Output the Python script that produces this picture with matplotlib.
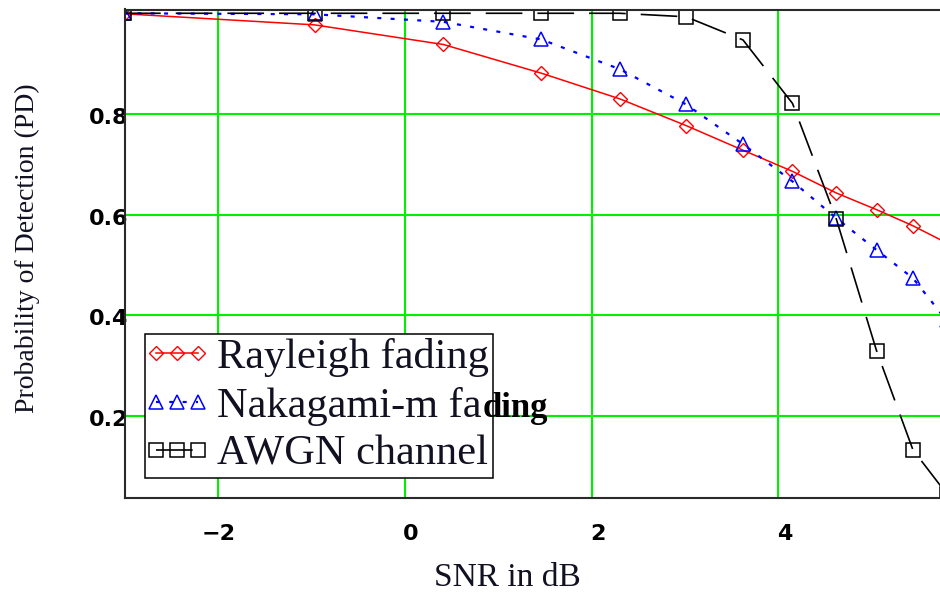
import matplotlib
matplotlib.use("Agg")
import matplotlib.pyplot as plt
import matplotlib.transforms as mtransforms
from matplotlib.font_manager import FontProperties
from matplotlib.legend_handler import HandlerLine2D

# ---- data ----
snr_db = [-3.01, -0.97, 0.41, 1.46, 2.30, 3.01, 3.62, 4.15, 4.62, 5.05, 5.44, 5.80]
rayleigh = [0.999, 0.977, 0.938, 0.881, 0.830, 0.777, 0.728, 0.686, 0.643, 0.610, 0.578, 0.544]
nakagami = [1.000, 0.998, 0.983, 0.948, 0.889, 0.819, 0.740, 0.666, 0.593, 0.530, 0.474, 0.390]
awgn = [1.000, 1.000, 1.000, 1.000, 1.000, 0.993, 0.947, 0.821, 0.591, 0.330, 0.133, 0.046]

series_names = ["Rayleigh fading", "Nakagami-m fading", "AWGN channel"]
x_ticks = [-2, 0, 2, 4]
x_tick_labels = ["\u22122", "0", "2", "4"]
y_ticks = [0.2, 0.4, 0.6, 0.8]
y_tick_labels = ["0.2", "0.4", "0.6", "0.8"]
x_label = "SNR in dB"
y_label = "Probability of Detection (PD)"

# ---- figure ----
W, H = 940, 596
fig = plt.figure(figsize=(W / 100, H / 100), dpi=100)
ax = fig.add_axes([125 / W, 1 - 498 / H, 815 / W, (498 - 9.5) / H])
ax.set_xlim(-3.0, 5.73)
ax.set_ylim(0.0373, 1.0075)

grid_green = "#00f000"
ax.set_axisbelow(True)
ax.grid(True, color=grid_green, lw=1.5)

l_ray, = ax.plot(snr_db, rayleigh, color="#ff0000", lw=1.1, marker="D", ms=7.3,
                 mfc="none", mec="#ff0000", mew=1.0)
l_nak, = ax.plot(snr_db, nakagami, color="#0000ff", lw=1.6, ls=(0, (1.8, 4.2)),
                 marker="^", ms=9.5, mfc="none", mec="#0000ff", mew=1.1)
l_awgn, = ax.plot(snr_db, awgn, color="black", lw=1.2, ls=(0, (22, 9)),
                  marker="s", ms=10, mfc="none", mec="black", mew=1.1)

for side in ["top", "left", "bottom"]:
    ax.spines[side].set_color("#2a2a2a")
    ax.spines[side].set_linewidth(1.5)
ax.spines["right"].set_visible(False)

tick_font = FontProperties(family="DejaVu Sans", weight="bold", size=16)
ax.set_xticks(x_ticks, x_tick_labels)
ax.set_yticks(y_ticks, y_tick_labels)
ax.tick_params(axis="both", length=0)
ax.tick_params(axis="x", pad=18.5)
ax.tick_params(axis="y", pad=-2.5)
for lab in ax.get_xticklabels() + ax.get_yticklabels():
    lab.set_fontproperties(tick_font)
    lab.set_color("black")
shift = mtransforms.ScaledTranslation(6 / 100, 0, fig.dpi_scale_trans)
for lab in ax.get_xticklabels():
    if not lab.get_text().startswith("\u2212"):
        lab.set_transform(lab.get_transform() + shift)
yshift = mtransforms.ScaledTranslation(0, -2 / 100, fig.dpi_scale_trans)
for lab in ax.get_yticklabels():
    lab.set_transform(lab.get_transform() + yshift)

label_color = "#111122"
ax.set_xlabel(x_label, family="Liberation Serif", fontsize=24, color=label_color, va="center")
ax.xaxis.set_label_coords((507 - 125) / 815, (498 - 578) / 488.5)
ax.set_ylabel(y_label, family="Liberation Serif", fontsize=20, color=label_color, va="center")
ax.yaxis.set_label_coords((27 - 125) / 815, (498 - 248) / 488.5)

# ---- legend (the long label overflows the box, as in the reference) ----
shown = [series_names[0], series_names[1][:-4], series_names[2]]
handles = [l_ray, l_nak, l_awgn]
leg = ax.legend(handles, shown, loc="upper left",
                bbox_to_anchor=((145 - 125) / 815, (498 - 334) / 488.5),
                borderaxespad=0, prop=FontProperties(family="Liberation Serif", size=30.5),
                handlelength=1.3, handletextpad=0.3, borderpad=0.1, labelspacing=0.22,
                numpoints=3, frameon=True, fancybox=False, framealpha=1,
                edgecolor="black", facecolor="white",
                handler_map={h: HandlerLine2D(marker_pad=0.15) for h in handles})
leg.get_frame().set_linewidth(1.1)
for t in leg.get_texts():
    t.set_color(label_color)
ax.annotate(series_names[1][-4:], xy=(1, 0), xycoords=leg.get_texts()[1],
            xytext=(1, 6.5), textcoords="offset points", ha="left", va="baseline",
            family="Liberation Serif", weight="bold", fontsize=25, color="black",
            zorder=6, annotation_clip=False)

fig.savefig("out.png", dpi=100)
